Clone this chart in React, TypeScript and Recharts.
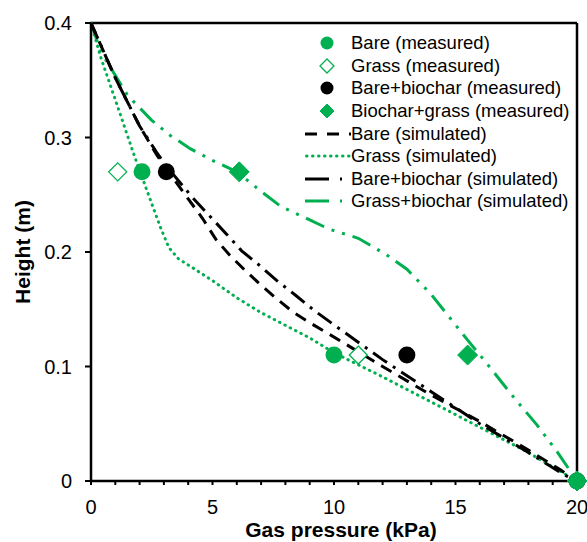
import { ComposedChart, Line, Scatter, XAxis, YAxis, ReferenceLine } from 'recharts';

const GREEN = '#00B050';
const FONT = '"Liberation Sans", Arial, sans-serif';

// measured points (same depths for every treatment)
const depths = [0.27, 0.11, 0];
const bareMeasuredX = [2.1, 10, 20];
const grassMeasuredX = [1.1, 11, 20];
const bareBiocharMeasuredX = [3.1, 13, 20];
const biocharGrassMeasuredX = [6.1, 15.5, 20];

// simulated profiles
const bareSimX = [0, 1, 2, 2.7, 3.5, 4.6, 5.14, 5.72, 6.34, 7, 7.65, 8.35, 9.1, 9.9, 12, 14, 16, 18, 19.3, 20];
const bareSimY = [0.4, 0.352, 0.31, 0.285, 0.261, 0.229, 0.211, 0.197, 0.184, 0.171, 0.159, 0.147, 0.137, 0.127, 0.1, 0.075, 0.052, 0.027, 0.01, 0];
const grassSimX = [0, 0.4, 1, 1.8, 2.4, 2.85, 3.2, 3.6, 4.2, 5, 6, 7, 8, 9, 10, 12, 15, 17.9, 20];
const grassSimY = [0.4, 0.37, 0.333, 0.283, 0.248, 0.222, 0.204, 0.194, 0.186, 0.175, 0.16, 0.147, 0.136, 0.125, 0.112, 0.091, 0.058, 0.026, 0];
const bareBiocharSimX = [0, 1, 2, 2.7, 3.1, 4.2, 5.56, 6.2, 6.95, 7.65, 8.43, 9.18, 9.96, 12, 14, 16, 18, 19.5, 20];
const bareBiocharSimY = [0.4, 0.352, 0.31, 0.287, 0.275, 0.247, 0.216, 0.201, 0.188, 0.175, 0.162, 0.149, 0.137, 0.106, 0.078, 0.05, 0.025, 0.005, 0];
const grassBiocharSimX = [0, 0.4, 1.5, 2.5, 3.25, 4.1, 5, 6, 7, 7.8, 9, 9.8, 11, 12.2, 13, 14, 15.5, 16.2, 17.4, 18.35, 19.2, 20];
const grassBiocharSimY = [0.4, 0.375, 0.337, 0.315, 0.302, 0.29, 0.28, 0.27, 0.253, 0.24, 0.228, 0.22, 0.212, 0.197, 0.185, 0.163, 0.123, 0.105, 0.073, 0.049, 0.025, 0];

const xTicks = [0, 1, 2, 3, 4, 5, 6, 7, 8, 9, 10, 11, 12, 13, 14, 15, 16, 17, 18, 19, 20];
const yTicks = [0, 0.1, 0.2, 0.3, 0.4];

const toPoints = (xs: number[], ys: number[]) => xs.map((x, i) => ({ x, y: ys[i] }));

const diamond = (cx: number, cy: number, h: number, filled: boolean) => (
  <polygon
    points={`${cx},${cy - h} ${cx + h},${cy} ${cx},${cy + h} ${cx - h},${cy}`}
    fill={filled ? GREEN : '#fff'}
    stroke={GREEN}
    strokeWidth={filled ? 1 : 1.3}
  />
);

const legendItems = [
  { label: 'Bare (measured)', kind: 'circle', color: GREEN },
  { label: 'Grass (measured)', kind: 'openDiamond', color: GREEN },
  { label: 'Bare+biochar (measured)', kind: 'circle', color: '#000' },
  { label: 'Biochar+grass (measured)', kind: 'diamond', color: GREEN },
  { label: 'Bare (simulated)', kind: 'line', color: '#000', dash: '12 10' },
  { label: 'Grass (simulated)', kind: 'dots', color: GREEN, dash: '0.5 5.5' },
  { label: 'Bare+biochar (simulated)', kind: 'line', color: '#000', dash: '24 11 2 30' },
  { label: 'Grass+biochar (simulated)', kind: 'line', color: GREEN, dash: '24 11 2 30' },
];

function LegendIcon({ kind, color, dash }: { kind: string; color: string; dash?: string }) {
  return (
    <svg width={46} height={22} style={{ display: 'block' }}>
      {kind === 'circle' && <circle cx={22} cy={11} r={6.5} fill={color} />}
      {kind === 'openDiamond' && diamond(22, 11, 7, false)}
      {kind === 'diamond' && diamond(22, 11, 7, true)}
      {kind === 'line' && (
        <line x1={0} y1={11} x2={46} y2={11} stroke={color} strokeWidth={3} strokeDasharray={dash} />
      )}
      {kind === 'dots' && (
        <line x1={1.5} y1={11} x2={44} y2={11} stroke={color} strokeWidth={3} strokeLinecap="round" strokeDasharray={dash} />
      )}
    </svg>
  );
}

function XTick(props: any) {
  const { x, y, payload } = props;
  if (payload.value % 5 !== 0) return null;
  return (
    <text x={x} y={y} dy="0.71em" textAnchor="middle" fontSize={20} fontFamily={FONT} fill="#000">
      {payload.value}
    </text>
  );
}

export default function App() {
  return (
    <div style={{ position: 'absolute', left: 0, top: 0, width: 587, height: 542, background: '#fff' }}>
      <ComposedChart width={587} height={542} margin={{ top: 23, right: 10, bottom: 0, left: 0 }}>
        <XAxis
          type="number"
          dataKey="x"
          domain={[0, 20]}
          ticks={xTicks}
          interval={0}
          height={61}
          tickSize={4}
          tickMargin={15}
          tick={<XTick />}
          axisLine={{ stroke: '#000', strokeWidth: 2.5 }}
          tickLine={{ stroke: '#000', strokeWidth: 2 }}
          label={{
            content: (p: any) => {
              const vb = p.viewBox;
              return (
                <text x={vb.x + vb.width / 2 + 7} y={537} textAnchor="middle" fontSize={21} fontWeight="bold" fontFamily={FONT} fill="#000">
                  Gas pressure (kPa)
                </text>
              );
            },
          }}
        />
        <YAxis
          type="number"
          dataKey="y"
          domain={[0, 0.4]}
          ticks={yTicks}
          width={91}
          tickSize={6}
          tickMargin={13}
          tick={{ fontSize: 20, fontFamily: FONT, fill: '#000' }}
          axisLine={{ stroke: '#000', strokeWidth: 2.5 }}
          tickLine={{ stroke: '#000', strokeWidth: 2 }}
          label={{
            content: () => (
              <text x={30} y={252} transform="rotate(-90 30 252)" textAnchor="middle" fontSize={21} fontWeight="bold" fontFamily={FONT} fill="#000">
                Height (m)
              </text>
            ),
          }}
        />
        <ReferenceLine y={0.4} stroke="#000" strokeWidth={2.5} />
        <ReferenceLine x={20} stroke="#000" strokeWidth={2.5} />

        <Line data={toPoints(grassSimX, grassSimY)} dataKey="y" type="linear" stroke={GREEN} strokeWidth={3} strokeLinecap="round" strokeDasharray="0.5 5.5" dot={false} isAnimationActive={false} />
        <Line data={toPoints(grassBiocharSimX, grassBiocharSimY)} dataKey="y" type="linear" stroke={GREEN} strokeWidth={3} strokeDasharray="20 8 3 8 3 8" dot={false} isAnimationActive={false} />
        <Line data={toPoints(bareSimX, bareSimY)} dataKey="y" type="linear" stroke="#000" strokeWidth={3} strokeDasharray="12 8" dot={false} isAnimationActive={false} />
        <Line data={toPoints(bareBiocharSimX, bareBiocharSimY)} dataKey="y" type="linear" stroke="#000" strokeWidth={3} strokeDasharray="17 7 3 7" dot={false} isAnimationActive={false} />

        <Scatter data={toPoints(bareBiocharMeasuredX, depths)} isAnimationActive={false}
          shape={(p: any) => <circle cx={p.cx} cy={p.cy} r={8.5} fill="#000" />} />
        <Scatter data={toPoints(grassMeasuredX, depths)} isAnimationActive={false}
          shape={(p: any) => diamond(p.cx, p.cy, 9, false)} />
        <Scatter data={toPoints(bareMeasuredX, depths)} isAnimationActive={false}
          shape={(p: any) => <circle cx={p.cx} cy={p.cy} r={8.5} fill={GREEN} />} />
        <Scatter data={toPoints(biocharGrassMeasuredX, depths)} isAnimationActive={false}
          shape={(p: any) => diamond(p.cx, p.cy, 10, true)} />
      </ComposedChart>

      <div style={{ position: 'absolute', left: 305, top: 32, fontFamily: FONT, fontSize: 18.5, color: '#000' }}>
        {legendItems.map((it) => (
          <div key={it.label} style={{ display: 'flex', alignItems: 'center', height: 22.6 }}>
            <LegendIcon kind={it.kind} color={it.color} dash={it.dash} />
            <span style={{ whiteSpace: 'nowrap' }}>{it.label}</span>
          </div>
        ))}
      </div>
    </div>
  );
}
